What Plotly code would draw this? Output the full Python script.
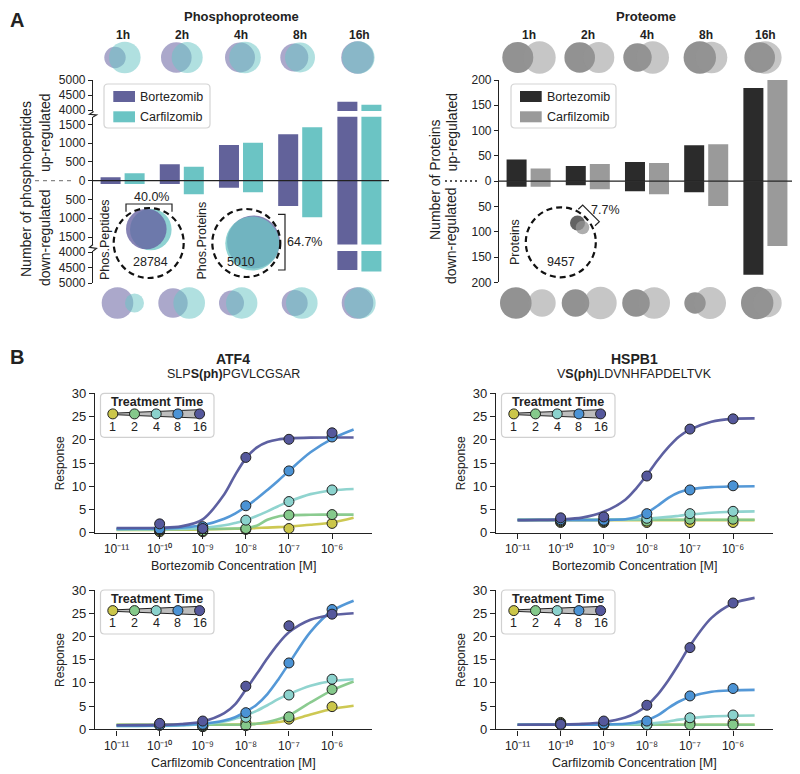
import plotly.graph_objects as go

# page geometry: the browser adds an 8px body margin, so the figure is sized to fit the rest
OFF = 8
FW, FH = 792, 766
FONT = "Liberation Sans, Arial, Helvetica, sans-serif"
INK = "#222222"

# ======================= DATA : panel A =======================
timepoints = ["1h", "2h", "4h", "8h", "16h"]
drug_names = ["Bortezomib", "Carfilzomib"]

# phosphopeptides (count)
phos_up_bort = [90, 440, 950, 1235, 4277]
phos_up_carf = [197, 372, 1010, 1420, 4177]
phos_down_bort = [88, 88, 186, 673, 4580]
phos_down_carf = [90, 362, 310, 975, 4630]

# proteins (count)
prot_up_bort = [43, 30, 38, 71, 184]
prot_up_carf = [25, 34, 36, 73, 201]
prot_down_bort = [11, 8, 20, 22, 185]
prot_down_carf = [11, 16, 26, 49, 128]

# Venn diagrams: circle diameters and centre shifts (estimated)
phos_up_venn_bort_d = [21.4, 30.6, 30.0, 28.0, 32.6]
phos_up_venn_carf_d = [31.6, 31.0, 31.6, 30.0, 32.6]
phos_up_venn_bort_dx = [-7.6, -5.5, -1.0, -5.9, -1.9]
phos_up_venn_carf_dx = [2.2, 5.4, 4.0, -0.2, -1.1]
phos_down_venn_bort_d = [31.6, 29.4, 25.0, 26.0, 31.6]
phos_down_venn_carf_d = [19.0, 31.6, 31.4, 31.6, 31.4]
phos_down_venn_bort_dx = [-5.1, -8.8, -9.5, -5.5, -1.9]
phos_down_venn_carf_dx = [11.9, 7.4, 0.7, 1.6, 0.6]

prot_up_venn_bort_d = [31.0, 30.6, 28.4, 32.4, 30.6]
prot_up_venn_carf_d = [32.4, 31.0, 32.4, 31.6, 32.6]
prot_up_venn_bort_dx = [-10.8, -8.1, -9.5, -6.4, -5.7]
prot_up_venn_carf_dx = [10.9, 11.0, 5.8, 5.3, -0.1]
prot_down_venn_bort_d = [31.6, 27.6, 27.6, 21.4, 32.4]
prot_down_venn_carf_d = [27.4, 32.4, 31.6, 32.0, 28.4]
prot_down_venn_bort_dx = [-12.8, -12.3, -11.0, -11.2, -8.2]
prot_down_venn_carf_dx = [13.4, 12.7, 7.2, 3.8, 2.1]

# overall overlap summaries
overview_totals = ["28784", "5010", "9457"]
overview_overlap = ["40.0%", "64.7%", "7.7%"]
overview_labels = ["Phos.Peptides", "Phos.Proteins", "Proteins"]
overview_bort_d = [40.6, 53.0, 15.0]
overview_carf_d = [41.6, 54.0, 13.6]

# ======================= DATA : panel B =======================
treatment_times = ["1", "2", "4", "8", "16"]
conc_log = [-10, -9, -8, -7, -6]
curve_log = [-11, -10.5, -10, -9.5, -9, -8.5, -8.25, -8, -7.75, -7.5, -7.25, -7, -6.5, -6, -5.5]
conc_ticks = [-11, -10, -9, -8, -7, -6]
conc_ticktext = ["10\u207b\u00b9\u00b9", "10\u207b\u00b9\u2070", "10\u207b\u2079", "10\u207b\u2078",
                 "10\u207b\u2077", "10\u207b\u2076"]

atf4_bort_points = [
    [0.2, 0.2, 0.7, 0.9, 2.0],
    [0.5, 0.4, 0.9, 3.8, 3.9],
    [0.6, 0.9, 2.7, 6.7, 9.2],
    [0.8, 1.3, 5.8, 13.3, 20.6],
    [1.9, 0.9, 16.2, 20.1, 21.5],
]
atf4_bort_curves = [
    [0.6, 0.6, 0.6, 0.65, 0.7, 0.8, 0.85, 0.9, 1.0, 1.1, 1.2, 1.35, 1.7, 2.2, 3.2],
    [0.8, 0.8, 0.8, 0.8, 0.8, 0.85, 0.9, 1.0, 1.5, 2.8, 3.5, 3.75, 3.85, 3.9, 3.9],
    [0.7, 0.7, 0.7, 0.8, 1.0, 1.6, 2.1, 2.7, 3.6, 4.6, 5.7, 6.7, 8.3, 9.1, 9.4],
    [0.8, 0.85, 0.9, 1.1, 1.6, 3.0, 4.1, 5.6, 7.3, 9.2, 11.2, 13.3, 17.3, 20.2, 22.2],
    [1.0, 1.0, 1.07, 1.36, 2.87, 8.28, 12.4, 16.0, 18.3, 19.5, 20.07, 20.3, 20.47, 20.5, 20.5],
]

hspb1_bort_points = [
    [2.2, 2.2, 2.2, 2.2, 2.2],
    [2.4, 2.4, 2.5, 2.9, 2.9],
    [2.6, 2.6, 3.1, 4.1, 4.6],
    [2.8, 2.7, 4.1, 9.2, 10.1],
    [3.2, 3.4, 12.2, 22.3, 24.5],
]
hspb1_bort_curves = [
    [2.7, 2.7, 2.7, 2.7, 2.7, 2.7, 2.7, 2.7, 2.7, 2.7, 2.7, 2.7, 2.7, 2.7, 2.7],
    [2.8, 2.8, 2.8, 2.8, 2.8, 2.8, 2.8, 2.8, 2.8, 2.8, 2.8, 2.8, 2.8, 2.8, 2.8],
    [2.8, 2.8, 2.8, 2.8, 2.8, 2.85, 2.9, 3.0, 3.2, 3.4, 3.65, 3.9, 4.3, 4.5, 4.6],
    [2.7, 2.7, 2.7, 2.7, 2.75, 2.9, 3.3, 4.3, 5.8, 7.5, 8.7, 9.3, 9.8, 9.95, 10.0],
    [2.71, 2.75, 2.87, 3.24, 4.5, 7.1, 9.5, 12.4, 15.6, 18.4, 20.7, 22.2, 23.9, 24.5, 24.6],
]

atf4_carf_points = [
    [1.2, 0.6, 1.5, 2.2, 4.9],
    [1.0, 0.6, 0.8, 2.7, 8.6],
    [0.9, 0.8, 2.6, 7.4, 10.8],
    [0.9, 1.1, 3.6, 14.3, 25.8],
    [1.3, 1.8, 9.3, 22.3, 24.8],
]
atf4_carf_curves = [
    [1.0, 1.0, 1.0, 1.0, 1.0, 1.0, 1.05, 1.1, 1.2, 1.35, 1.6, 1.9, 3.2, 4.4, 5.1],
    [1.0, 1.0, 1.0, 1.0, 1.0, 1.0, 1.0, 1.05, 1.2, 1.6, 2.2, 3.0, 5.8, 8.4, 10.3],
    [0.7, 0.7, 0.75, 0.85, 1.1, 1.7, 2.3, 3.0, 4.0, 5.2, 6.5, 7.6, 9.4, 10.4, 10.8],
    [0.8, 0.8, 0.83, 0.94, 1.2, 1.9, 2.6, 3.8, 5.3, 7.6, 10.7, 14.2, 21.0, 25.5, 27.7],
    [0.9, 0.92, 0.97, 1.15, 1.7, 3.5, 5.4, 8.6, 11.9, 15.3, 18.4, 20.9, 23.6, 24.6, 25.0],
]

hspb1_carf_points = [
    [1.5, 1.0, 1.0, 1.4, 1.5],
    [1.3, 1.0, 1.0, 1.0, 1.0],
    [1.0, 1.1, 1.0, 2.5, 3.1],
    [1.0, 1.2, 1.8, 7.2, 8.8],
    [1.1, 1.8, 5.2, 17.6, 27.2],
]
hspb1_carf_curves = [
    [1.0, 1.0, 1.0, 1.0, 1.0, 1.0, 1.0, 1.0, 1.0, 1.0, 1.0, 1.0, 1.0, 1.0, 1.0],
    [1.0, 1.0, 1.0, 1.0, 1.0, 1.0, 1.0, 1.0, 1.0, 1.0, 1.0, 1.0, 1.0, 1.0, 1.0],
    [1.0, 1.0, 1.0, 1.0, 1.0, 1.05, 1.1, 1.2, 1.4, 1.7, 2.1, 2.4, 2.8, 2.95, 3.0],
    [1.0, 1.0, 1.0, 1.0, 1.05, 1.2, 1.5, 2.0, 3.0, 4.6, 6.0, 7.0, 8.1, 8.4, 8.5],
    [1.0, 1.02, 1.06, 1.18, 1.54, 2.54, 3.56, 5.15, 7.5, 10.6, 14.2, 18.0, 24.0, 27.1, 28.3],
]

# ======================= STYLE =======================
PH_BORT = "#62629a"
PH_CARF = "#6bc4c4"
PH_BORT_V = "rgba(100,96,160,0.78)"
PH_CARF_V = "rgba(107,196,196,0.76)"
PR_BORT = "#2b2b2b"
PR_CARF = "#9a9a9a"
PR_BORT_V = "rgba(60,60,60,0.8)"
PR_CARF_V = "rgba(149,149,149,0.76)"
TIME_COLORS = ["#cbc64a", "#85c98b", "#8bd2cd", "#4b93d5", "#55589c"]

GROUP_PX = 59.2   # pixel width of one time-point slot in panel A
BAR_W = 0.338
BAR_OFF = [-0.372, 0.034]


def dom_x(l, r):
    return [(l - OFF) / FW, (r - OFF) / FW]


def dom_y(top, bottom):
    return [1 - (bottom - OFF) / FH, 1 - (top - OFF) / FH]


fig = go.Figure()
shapes = []
annotations = []
idx = list(range(len(timepoints)))


def ann(text, x, y, size=12, bold=False, angle=0, xanchor="center", xref="x7", yref="y13", color=INK):
    annotations.append(dict(text=("<b>%s</b>" % text) if bold else text, x=x, y=y, xref=xref, yref=yref,
                            showarrow=False, textangle=angle, xanchor=xanchor, yanchor="middle",
                            font=dict(size=size, family=FONT, color=color)))


def bars(values, sign, color, xa, yas, off):
    for ya in yas:
        fig.add_trace(go.Bar(x=idx, y=[sign * v for v in values], xaxis=xa, yaxis=ya, width=BAR_W,
                             offset=off, marker=dict(color=color, line=dict(width=0)),
                             showlegend=False, hoverinfo="skip"))


def venn(diams, shifts, color, xa, ya):
    fig.add_trace(go.Scatter(x=[i + s / GROUP_PX for i, s in zip(idx, shifts)], y=[0.5] * len(idx),
                             xaxis=xa, yaxis=ya, mode="markers", cliponaxis=False,
                             marker=dict(size=diams, color=color, line=dict(width=0)),
                             showlegend=False, hoverinfo="skip"))


# ---------- phosphoproteome bars ----------
bars(phos_up_bort, 1, PH_BORT, "x", ["y", "y2"], BAR_OFF[0])
bars(phos_up_carf, 1, PH_CARF, "x", ["y", "y2"], BAR_OFF[1])
bars(phos_down_bort, -1, PH_BORT, "x", ["y", "y3"], BAR_OFF[0])
bars(phos_down_carf, -1, PH_CARF, "x", ["y", "y3"], BAR_OFF[1])
# ---------- proteome bars ----------
bars(prot_up_bort, 1, PR_BORT, "x2", ["y6"], BAR_OFF[0])
bars(prot_up_carf, 1, PR_CARF, "x2", ["y6"], BAR_OFF[1])
bars(prot_down_bort, -1, PR_BORT, "x2", ["y6"], BAR_OFF[0])
bars(prot_down_carf, -1, PR_CARF, "x2", ["y6"], BAR_OFF[1])

# ---------- Venn rows ----------
venn(phos_up_venn_bort_d, phos_up_venn_bort_dx, PH_BORT_V, "x", "y4")
venn(phos_up_venn_carf_d, phos_up_venn_carf_dx, PH_CARF_V, "x", "y4")
venn(phos_down_venn_bort_d, phos_down_venn_bort_dx, PH_BORT_V, "x", "y5")
venn(phos_down_venn_carf_d, phos_down_venn_carf_dx, PH_CARF_V, "x", "y5")
venn(prot_up_venn_bort_d, prot_up_venn_bort_dx, PR_BORT_V, "x2", "y4")
venn(prot_up_venn_carf_d, prot_up_venn_carf_dx, PR_CARF_V, "x2", "y4")
venn(prot_down_venn_bort_d, prot_down_venn_bort_dx, PR_BORT_V, "x2", "y5")
venn(prot_down_venn_carf_d, prot_down_venn_carf_dx, PR_CARF_V, "x2", "y5")

# ---------- overview circles (canvas coordinates) ----------
ov_centres = [(148.7, 243.0, 35.0), (246.3, 243.0, 34.0), (560.8, 242.3, 35.0)]
ov_b = [(146.3, 229.0), (253.5, 242.0), (577.5, 223.0)]
ov_c = [(150.8, 229.5), (252.3, 243.5), (582.5, 227.5)]
ov_cols = [(PH_BORT_V, PH_CARF_V), (PH_BORT_V, PH_CARF_V), (PR_BORT_V, PR_CARF_V)]
ov_bort_on_top = [True, False, False]
for k in range(3):
    cx, cy, r = ov_centres[k]
    shapes.append(dict(type="circle", xref="x7", yref="y13", x0=cx - r, x1=cx + r, y0=cy - r, y1=cy + r,
                       line=dict(color="#111111", width=2.2, dash="6px,4px"), layer="above"))
    order = [("c", ov_c[k], overview_carf_d[k], ov_cols[k][1]), ("b", ov_b[k], overview_bort_d[k], ov_cols[k][0])]
    if not ov_bort_on_top[k]:
        order = order[::-1]
    for _, (px, py), d, col in order:
        fig.add_trace(go.Scatter(x=[px], y=[py], xaxis="x7", yaxis="y13", mode="markers", cliponaxis=False,
                                 marker=dict(size=d, color=col, line=dict(width=0)),
                                 showlegend=False, hoverinfo="skip"))

# ---------- dose-response panels ----------
panels = [
    dict(xa="x3", ya="y9", x0=95, top=393.3, title="ATF4", sub="SLP<b>S(ph)</b>PGVLCGSAR",
         drug="Bortezomib", pts=atf4_bort_points, crv=atf4_bort_curves),
    dict(xa="x4", ya="y10", x0=496, top=393.3, title="HSPB1", sub="V<b>S(ph)</b>LDVNHFAPDELTVK",
         drug="Bortezomib", pts=hspb1_bort_points, crv=hspb1_bort_curves),
    dict(xa="x5", ya="y11", x0=95, top=590.0, title=None, sub=None,
         drug="Carfilzomib", pts=atf4_carf_points, crv=atf4_carf_curves),
    dict(xa="x6", ya="y12", x0=496, top=590.0, title=None, sub=None,
         drug="Carfilzomib", pts=hspb1_carf_points, crv=hspb1_carf_curves),
]
PANEL_W = 276.7
PANEL_H = 139.4

for p in panels:
    for t in range(5):
        fig.add_trace(go.Scatter(x=curve_log, y=p["crv"][t], xaxis=p["xa"], yaxis=p["ya"], mode="lines",
                                 line=dict(color=TIME_COLORS[t], width=2.6, shape="spline", smoothing=0.9),
                                 opacity=0.95, showlegend=False, hoverinfo="skip"))
    for t in range(5):
        fig.add_trace(go.Scatter(x=conc_log, y=p["pts"][t], xaxis=p["xa"], yaxis=p["ya"], mode="markers",
                                 cliponaxis=False,
                                 marker=dict(size=10, color=TIME_COLORS[t], line=dict(color=INK, width=1)),
                                 showlegend=False, hoverinfo="skip"))

# ---------- layout axes ----------
common = dict(showgrid=False, zeroline=False, showline=True, linecolor=INK, linewidth=1.2,
              ticks="outside", ticklen=4, tickwidth=1.2, tickcolor=INK, automargin=False,
              tickfont=dict(size=12, family=FONT, color=INK))
hidden = dict(visible=False, showgrid=False, zeroline=False, fixedrange=True, automargin=False)

axes = {}
axes["xaxis"] = dict(hidden, domain=dom_x(93, 389), range=[-0.5, 4.5], anchor="y")
axes["yaxis"] = dict(common, domain=dom_y(116.8, 244.6), range=[-1700, 1700], anchor="x",
                     tickvals=[-1500, -1000, -500, 0, 500, 1000, 1500],
                     ticktext=["1500", "1000", "500", "0", "500", "1000", "1500"])
axes["yaxis2"] = dict(common, domain=dom_y(80, 110.9), range=[3970, 5000], anchor="x",
                      tickvals=[4000, 4500, 5000], ticktext=["4000", "4500", "5000"])
axes["yaxis3"] = dict(common, domain=dom_y(251.1, 283), range=[-5000, -3970], anchor="x",
                      tickvals=[-5000, -4500, -4000], ticktext=["5000", "4500", "4000"])
axes["yaxis4"] = dict(hidden, domain=dom_y(40, 75), range=[0, 1], anchor="x")
axes["yaxis5"] = dict(hidden, domain=dom_y(286, 320), range=[0, 1], anchor="x")
axes["xaxis2"] = dict(hidden, domain=dom_x(499, 795), range=[-0.5, 4.5], anchor="y6")
axes["yaxis6"] = dict(common, domain=dom_y(80, 282.3), range=[-200, 200], anchor="x2",
                      tickvals=[-200, -150, -100, -50, 0, 50, 100, 150, 200],
                      ticktext=["200", "150", "100", "50", "0", "50", "100", "150", "200"])
for p in panels:
    xn = "xaxis" + p["xa"][1:]
    yn = "yaxis" + p["ya"][1:]
    axes[xn] = dict(common, domain=dom_x(p["x0"], p["x0"] + PANEL_W), range=[-11.5, -5.08], anchor=p["ya"],
                    tickvals=conc_ticks, ticktext=conc_ticktext, ticklen=5,
                    tickfont=dict(size=12, family=FONT, color=INK))
    axes[yn] = dict(common, domain=dom_y(p["top"], p["top"] + PANEL_H), range=[0, 30], anchor=p["xa"],
                    tickvals=[0, 5, 10, 15, 20, 25, 30], ticklen=5,
                    tickfont=dict(size=13, family=FONT, color=INK))
# full-page canvas axis, in page pixels, for annotations and decorations
axes["xaxis7"] = dict(hidden, domain=[0, 1], range=[OFF, OFF + FW], anchor="y13")
axes["yaxis13"] = dict(hidden, domain=[0, 1], range=[OFF + FH, OFF], anchor="x7")

# ---------- decorations panel A ----------
ann("A", 17, 20, size=20, bold=True)
ann("B", 17, 357, size=20, bold=True)
ann("Phosphoproteome", 241, 16.5, size=13, bold=True)
ann("Proteome", 646, 16.5, size=13, bold=True)
for i, tp in enumerate(timepoints):
    ann(tp, i, 34.5, size=12, bold=True, xref="x")
    ann(tp, i, 34.5, size=12, bold=True, xref="x2")

# zero lines
shapes.append(dict(type="line", xref="x domain", yref="y", x0=0, x1=1, y0=0, y1=0,
                   line=dict(color=INK, width=1.3), layer="above"))
shapes.append(dict(type="line", xref="x2 domain", yref="y6", x0=0, x1=1, y0=0, y1=0,
                   line=dict(color=INK, width=1.3), layer="above"))
# dotted leaders to zero
shapes.append(dict(type="line", xref="x7", yref="y13", x0=35, x1=72, y0=180.7, y1=180.7,
                   line=dict(color="#888888", width=1.3, dash="4px,4px")))
shapes.append(dict(type="line", xref="x7", yref="y13", x0=445, x1=477, y0=181, y1=181,
                   line=dict(color=INK, width=1.5, dash="2px,3px")))
# axis break marks
shapes.append(dict(type="path", xref="x7", yref="y13", path="M93,110.9 L93,112 L89.5,114.3 L96.5,115 L93,117",
                   line=dict(color=INK, width=1.2)))
shapes.append(dict(type="path", xref="x7", yref="y13", path="M93,244.6 L89.5,247.3 L96.5,248.3 L93,251.1",
                   line=dict(color=INK, width=1.2)))

# axis titles
ann("Number of phosphopeptides", 26, 189, size=14, angle=-90)
ann("up-regulated", 45, 133, size=14, angle=-90)
ann("down-regulated", 45, 238, size=14, angle=-90)
ann("Number of Proteins", 435, 180, size=14, angle=-90)
ann("up-regulated", 451, 132.5, size=14, angle=-90)
ann("down-regulated", 451, 236, size=14, angle=-90)


def rrect(x0, y0, x1, y1, r):
    return ("M%.1f,%.1f L%.1f,%.1f Q%.1f,%.1f %.1f,%.1f L%.1f,%.1f Q%.1f,%.1f %.1f,%.1f "
            "L%.1f,%.1f Q%.1f,%.1f %.1f,%.1f L%.1f,%.1f Q%.1f,%.1f %.1f,%.1f Z") % (
        x0 + r, y0, x1 - r, y0, x1, y0, x1, y0 + r, x1, y1 - r, x1, y1, x1 - r, y1,
        x0 + r, y1, x0, y1, x0, y1 - r, x0, y0 + r, x0, y0, x0 + r, y0)


# bar legends
for (bx0, by0, bx1, by1, sw_x0, colors) in [(104, 84, 210, 128, 113.3, (PH_BORT, PH_CARF)),
                                          (511, 84, 616, 128, 520, (PR_BORT, PR_CARF))]:
    shapes.append(dict(type="path", xref="x7", yref="y13", path=rrect(bx0, by0, bx1, by1, 4),
                       fillcolor="white", line=dict(color="#d4d4d4", width=1.2), layer="above"))
    for j, (name, col) in enumerate(zip(drug_names, colors)):
        yc = 96.5 + 20.3 * j
        shapes.append(dict(type="rect", xref="x7", yref="y13", x0=sw_x0, x1=sw_x0 + 21.7, y0=yc - 5.5,
                           y1=yc + 5.5, fillcolor=col, line=dict(width=0), layer="above"))
        ann(name, sw_x0 + 24.5, yc, size=12.5, xanchor="left")

# overview annotations
bracket = dict(type="path", xref="x7", yref="y13", line=dict(color=INK, width=1.2), layer="above")
shapes.append(dict(bracket, path="M126,211.7 L126,204 L172,204 L172,211.7"))
shapes.append(dict(bracket, path="M278,214.3 L285,214.3 L285,270 L278,270"))
shapes.append(dict(bracket, path="M578.3,209.3 L582.7,205 L599.3,221.7 L595,225.7"))
ann(overview_overlap[0], 151, 197, size=12.5)
ann(overview_overlap[1], 304, 242, size=12.5)
ann(overview_overlap[2], 605, 209.5, size=12.5)
ann(overview_totals[0], 150, 261.5, size=12.5)
ann(overview_totals[1], 241, 261.5, size=12.5)
ann(overview_totals[2], 561, 261.5, size=12.5)
ann(overview_labels[0], 105, 240, size=12.5, angle=-90)
ann(overview_labels[1], 201.5, 241, size=12.5, angle=-90)
ann(overview_labels[2], 515, 242, size=12.5, angle=-90)

# ---------- decorations panel B ----------
for p in panels:
    x0, top = p["x0"], p["top"]
    xc = x0 + PANEL_W / 2
    if p["title"]:
        ann(p["title"], xc, top - 34.5, size=14, bold=True)
        ann(p["sub"], xc, top - 19, size=12.5)
    ann("Response", x0 - 35, top + 70, size=12, angle=-90)
    ann(p["drug"] + " Concentration [M]", xc, top + PANEL_H + 33.5, size=12.5)
    # treatment-time legend
    shapes.append(dict(type="path", xref="x7", yref="y13", path=rrect(x0 + 5.5, top, x0 + 119, top + 44, 4),
                       fillcolor="white", line=dict(color="#d0d0d0", width=1.2), layer="below"))
    ann("Treatment Time", x0 + 62, top + 9, size=12.5, bold=True)
    mx = [x0 + 17.8 + 21.7 * k for k in range(5)]
    my = top + 20.6
    shapes.append(dict(type="path", xref="x7", yref="y13",
                       path="M%.1f,%.1f L%.1f,%.1f L%.1f,%.1f L%.1f,%.1f Z" % (
                           mx[0], my - 0.7, mx[4], my - 4.2, mx[4], my + 4.2, mx[0], my + 0.7),
                       fillcolor="#bdbdbd", line=dict(color=INK, width=1), layer="below"))
    fig.add_trace(go.Scatter(x=mx, y=[my] * 5, xaxis="x7", yaxis="y13", mode="markers", cliponaxis=False,
                             marker=dict(size=10, color=TIME_COLORS, line=dict(color=INK, width=1)),
                             showlegend=False, hoverinfo="skip"))
    for k in range(5):
        ann(treatment_times[k], mx[k], top + 33.3, size=12.5)

fig.update_layout(width=FW, height=FH, autosize=False,
                  margin=dict(l=0, r=0, t=0, b=0, pad=0, autoexpand=False), paper_bgcolor="white",
                  plot_bgcolor="rgba(0,0,0,0)", showlegend=False, barmode="overlay",
                  font=dict(family=FONT, color=INK), shapes=shapes, annotations=annotations, **axes)

fig.write_html("out.html")
